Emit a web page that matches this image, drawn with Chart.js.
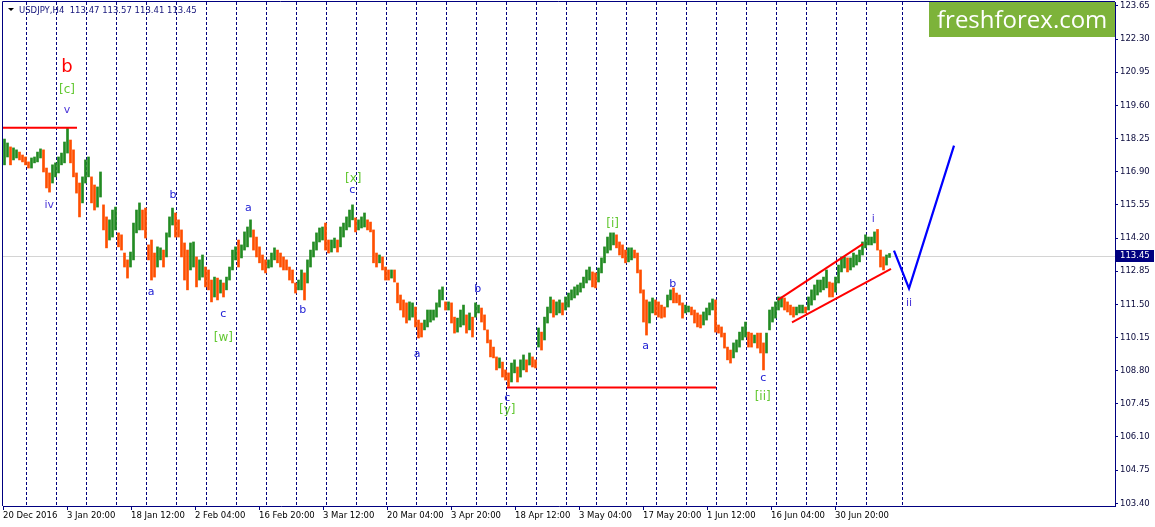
<!DOCTYPE html>
<html><head><meta charset="utf-8">
<script src="https://cdn.jsdelivr.net/npm/chart.js@4.4.1/dist/chart.umd.min.js"></script>
<style>html,body{margin:0;padding:0;background:#fff;overflow:hidden}#wrap{position:relative;width:1155px;height:527px}</style>
</head><body><div id="wrap"><canvas id="c" width="1155" height="527"></canvas></div>
<script>
const symbolTitle = 'USDJPY,H4  113.47 113.57 113.41 113.45';
const lastPrice = 113.45;
const logoText = 'freshforex.com';
// each plotted bar groups 3 H4 bars; x axis counts H4 bars from 20 Dec 2016
const barStep = 3;
const firstBar = 1.5;
const highs = [
118.23,118.07,117.91,117.87,117.79,117.70,117.58,117.50,117.30,117.46,117.50,117.70,117.83,117.79,117.05,116.85,117.18,117.26,117.50,117.66,118.11,118.68,118.19,117.79,116.85,116.44,116.69,117.38,117.50,116.69,116.36,116.28,116.89,115.55,115.06,114.94,115.34,115.46,114.41,114.33,113.59,113.31,113.63,114.81,115.34,115.63,115.34,115.42,113.92,
114.12,113.59,113.84,113.80,113.71,114.41,115.06,115.42,115.22,114.94,114.53,114.00,113.71,114.00,114.04,113.43,113.31,113.51,113.02,112.90,112.49,112.61,112.57,112.49,112.37,112.61,113.02,113.71,113.84,114.12,113.92,114.45,114.65,114.94,114.53,114.24,113.84,113.51,113.31,113.31,113.59,113.80,113.71,113.59,113.43,113.31,113.02,112.90,112.37,112.49,
112.90,112.78,113.31,113.71,114.04,114.41,114.61,114.65,114.81,114.12,114.12,114.20,114.12,114.65,114.81,115.06,115.34,115.55,115.02,114.94,115.06,115.22,114.94,114.85,114.53,113.59,113.51,113.43,113.02,112.90,112.90,112.90,112.37,111.88,111.68,111.56,111.60,111.56,111.39,110.86,110.74,110.86,111.27,111.27,111.27,111.56,112.09,112.21,111.60,111.60,
111.56,110.98,110.94,111.27,111.47,111.07,111.15,110.98,111.56,111.47,111.35,111.07,110.46,110.05,109.76,109.36,109.32,109.15,108.83,108.71,109.11,109.24,108.95,109.24,109.44,109.24,109.52,109.36,109.24,110.54,110.37,110.98,111.39,111.80,111.68,111.60,111.68,111.56,111.80,111.96,112.09,112.21,112.29,112.37,112.61,112.90,113.02,112.82,112.78,112.98,
113.39,113.84,114.24,114.41,114.41,114.33,114.04,113.92,113.71,113.80,113.80,113.71,113.59,112.90,112.09,111.68,111.60,111.76,111.68,111.60,111.47,111.39,111.88,112.09,112.17,111.96,111.88,111.56,111.47,111.43,111.39,111.27,111.15,111.07,111.19,111.35,111.56,111.72,111.68,110.66,110.58,110.33,109.76,109.64,109.93,110.05,110.37,110.58,110.78,110.37,
110.33,110.25,110.33,110.33,109.93,110.33,111.27,111.39,111.60,111.80,111.80,111.76,111.60,111.47,111.39,111.39,111.47,111.47,111.39,111.80,112.09,112.29,112.49,112.49,112.61,112.90,112.41,112.37,112.61,113.10,113.43,113.43,113.39,113.39,113.59,113.51,113.71,114.04,114.33,114.24,114.24,114.45,114.55,113.71,113.43,113.51,113.57];
const lows = [
117.18,117.50,117.18,117.38,117.46,117.38,117.30,117.18,117.05,117.05,117.26,117.30,117.46,116.89,116.24,116.07,116.44,116.69,116.85,117.18,117.26,117.66,117.26,116.69,116.03,115.06,115.63,116.44,116.69,115.63,115.34,115.46,115.87,114.53,113.80,114.12,114.24,114.53,113.84,113.71,113.02,112.57,113.02,113.31,114.41,114.53,114.53,114.20,113.31,
112.49,112.61,113.02,113.31,113.02,113.43,114.24,114.73,114.24,114.24,113.43,112.49,112.09,112.90,113.02,112.21,112.49,112.61,112.21,112.09,111.60,111.80,111.68,111.96,111.80,112.09,112.49,112.90,113.31,113.02,113.39,113.71,113.84,114.24,113.71,113.43,113.19,112.90,112.78,112.98,113.02,113.31,113.19,113.02,112.90,112.90,112.49,112.37,111.96,112.09,
112.09,111.68,112.37,113.02,113.43,113.71,114.04,114.12,113.71,113.59,113.63,113.80,113.63,113.84,114.24,114.53,114.65,114.94,114.45,114.53,114.61,114.65,114.53,114.45,113.19,113.02,113.19,112.90,112.49,112.49,112.57,112.41,111.56,111.27,110.98,110.74,110.86,110.98,110.58,110.13,110.17,110.46,110.58,110.78,110.86,110.98,111.39,111.68,111.27,111.27,
110.74,110.33,110.37,110.58,110.66,110.33,110.46,110.17,110.98,111.15,110.78,110.46,109.93,109.36,109.32,108.83,108.91,108.54,108.42,108.16,108.34,108.71,108.34,108.54,108.83,108.75,109.03,108.95,108.91,109.76,109.64,110.05,110.74,111.15,110.98,111.07,111.15,111.07,111.27,111.39,111.68,111.76,111.88,112.00,112.17,112.37,112.49,112.21,112.17,112.41,
112.78,113.19,113.59,113.71,113.92,113.80,113.51,113.39,113.19,113.23,113.31,113.39,112.78,111.96,110.78,110.25,110.74,111.15,111.07,110.98,110.94,110.98,111.39,111.68,111.56,111.56,111.47,110.94,111.15,111.19,111.07,110.74,110.58,110.54,110.66,110.86,111.07,111.27,110.37,110.33,110.17,109.72,109.24,109.11,109.32,109.56,109.76,110.05,110.17,109.76,
109.76,109.93,109.72,109.52,108.83,109.52,110.46,110.78,110.94,111.27,111.39,111.27,111.19,111.07,110.98,111.07,111.15,111.15,111.15,111.27,111.47,111.68,111.88,112.00,112.09,112.17,111.80,111.80,112.00,112.37,112.82,112.98,112.82,112.90,113.02,113.10,113.23,113.51,113.80,113.92,113.92,114.00,113.71,113.02,112.90,113.10,113.41];

const dateLabels = ['20 Dec 2016','3 Jan 20:00','18 Jan 12:00','2 Feb 04:00','16 Feb 20:00','3 Mar 12:00','20 Mar 04:00','3 Apr 20:00','18 Apr 12:00','3 May 04:00','17 May 20:00','1 Jun 12:00','16 Jun 04:00','30 Jun 20:00'];
const dateLabelBars = [0,64,128,192,256,320,384,448,512,576,640,704,768,832];
const priceTicks = [103.40,104.75,106.10,107.45,108.80,110.15,111.50,112.85,114.20,115.55,116.90,118.25,119.60,120.95,122.30,123.65];
const weekLines = [24,54,84,114,144,174,204,234,264,294,324,354,384,414,444,474,504,534,564,594,624,654,684,714,744,774,804,834,864,900];

const resistanceLine = [{x:0,y:118.69},{x:74,y:118.69}];
const supportLine = [{x:504,y:108.11},{x:713,y:108.11}];
const channelUpper = [{x:775,y:111.68},{x:860,y:113.96}];
const channelLower = [{x:789,y:110.77},{x:888,y:112.94}];
const forecastPath = [{x:891,y:113.69},{x:906,y:112.15},{x:951,y:117.96}];

// [text, H4 bar, price, style]
const waveLabels = [
 ['b',64,121.17,'major'],['[c]',64,120.23,'bracket'],['v',64,119.42,'sub'],['iv',46.3,115.55,'sub'],
 ['a',148,112.00,'minor'],['b',170,115.95,'minor'],['c',220.3,111.11,'minor'],['[w]',220.3,110.12,'bracket'],
 ['a',245.3,115.41,'minor'],['b',299.7,111.27,'minor'],['[x]',350.3,116.59,'bracket'],['c',349.3,116.13,'minor'],
 ['a',414,109.48,'minor'],['b',474.7,112.11,'minor'],['c',504.3,107.68,'minor'],['[y]',504.3,107.20,'bracket'],
 ['[i]',609.7,114.76,'bracket'],['a',642.7,109.80,'minor'],['b',669.7,112.32,'minor'],
 ['c',760.3,108.49,'minor'],['[ii]',759.7,107.72,'bracket'],['i',870.3,114.96,'sub'],['ii',906,111.54,'sub']
];
const waveStyles = {
 major:{font:'18px "DejaVu Sans"',color:'#ff0000'},
 bracket:{font:'12px "DejaVu Sans"',color:'#63c832'},
 minor:{font:'11px "DejaVu Sans"',color:'#1c1cd4'},
 sub:{font:'11px "DejaVu Sans"',color:'#4a35d8'}
};

const UP = '#228b22', DOWN = '#ff4f00', NAVY = '#000080';
const candleData = highs.map((h,i)=>({x:firstBar+i*barStep, y:[lows[i],h]}));
const candleColors = highs.map((h,i)=>{
  if(i===0) return UP;
  return (h+lows[i]) >= (highs[i-1]+lows[i-1]) ? UP : DOWN;
});

const overlay = {
  id:'overlay',
  beforeDraw(chart){
    const c=chart.ctx; c.save(); c.fillStyle='#fff'; c.fillRect(0,0,chart.width,chart.height); c.restore();
  },
  beforeDatasetsDraw(chart){
    const {ctx, chartArea:a, scales:{x,y}} = chart;
    ctx.save();
    ctx.strokeStyle=NAVY; ctx.lineWidth=1; ctx.setLineDash([3,2]);
    weekLines.forEach(b=>{
      const px=Math.round(x.getPixelForValue(b))-0.5;
      ctx.beginPath(); ctx.moveTo(px,a.top); ctx.lineTo(px,a.bottom); ctx.stroke();
    });
    ctx.setLineDash([]);
    ctx.strokeStyle='#d4d4d4';
    const py=Math.round(y.getPixelForValue(lastPrice))+0.5;
    ctx.beginPath(); ctx.moveTo(a.left,py); ctx.lineTo(a.right,py); ctx.stroke();
    ctx.restore();
  },
  afterDatasetsDraw(chart){
    const {ctx, scales:{x,y}} = chart;
    ctx.save();
    ctx.textAlign='center'; ctx.textBaseline='middle';
    waveLabels.forEach(([t,b,p,s])=>{
      ctx.font=waveStyles[s].font; ctx.fillStyle=waveStyles[s].color;
      ctx.fillText(t, x.getPixelForValue(b), y.getPixelForValue(p));
    });
    ctx.restore();
  },
  afterDraw(chart){
    const {ctx, chartArea:a, scales:{y}} = chart;
    ctx.save();
    ctx.strokeStyle=NAVY; ctx.lineWidth=1;
    ctx.beginPath(); ctx.moveTo(a.left-0.5,a.bottom); ctx.lineTo(a.left-0.5,a.top-0.5); ctx.lineTo(a.right,a.top-0.5); ctx.stroke();
    ctx.fillStyle='#000';
    ctx.beginPath(); ctx.moveTo(8,8); ctx.lineTo(14,8); ctx.lineTo(11,11); ctx.closePath(); ctx.fill();
    ctx.font='8.5px "DejaVu Sans"'; ctx.fillStyle='#14147a'; ctx.textBaseline='middle'; ctx.textAlign='left';
    ctx.fillText(symbolTitle, 19, 11);
    ctx.fillStyle='#7db33a'; ctx.fillRect(929,2,a.right-929,35);
    ctx.fillStyle='#ffffff'; ctx.font='24px "Open Sans"'; ctx.textBaseline='alphabetic';
    ctx.fillText(logoText, 937, 28);
    const py=Math.round(y.getPixelForValue(lastPrice));
    ctx.fillStyle=NAVY; ctx.fillRect(a.right+1,py-6,38,12);
    ctx.fillStyle='#fff'; ctx.font='8.5px "DejaVu Sans"'; ctx.textBaseline='middle';
    ctx.fillText(lastPrice.toFixed(2), a.right+5, py);
    ctx.restore();
  }
};

function lineSet(data,color,width){
  return {type:'line',data,borderColor:color,borderWidth:width,pointRadius:0,fill:false,tension:0,order:0};
}

new Chart(document.getElementById('c'),{
  data:{datasets:[
    {type:'bar',data:candleData,backgroundColor:candleColors,barThickness:2,grouped:false,borderWidth:0,order:1},
    lineSet(resistanceLine,'#ff0000',2),
    lineSet(supportLine,'#ff0000',2),
    lineSet(channelUpper,'#ff0000',2),
    lineSet(channelLower,'#ff0000',2),
    lineSet(forecastPath,'#0000ff',2.2)
  ]},
  options:{
    responsive:false, animation:false, devicePixelRatio:1,
    layout:{padding:{left:3,top:2,right:0,bottom:0}},
    plugins:{legend:{display:false},tooltip:{enabled:false}},
    scales:{
      x:{type:'linear',min:0,max:1112,offset:false,
        afterBuildTicks:s=>{s.ticks=dateLabelBars.map(v=>({value:v}));},
        afterFit:s=>{s.height=21; s.paddingLeft=0; s.paddingRight=0;},
        ticks:{autoSkip:false,maxRotation:0,minRotation:0,align:'start',padding:1,color:'#000',
          font:{family:'DejaVu Sans',size:8.5},
          callback:v=>dateLabels[dateLabelBars.indexOf(v)]},
        grid:{drawOnChartArea:false,tickLength:4,color:NAVY,offset:false},
        border:{color:NAVY,width:1}
      },
      y:{type:'linear',position:'right',min:103.29,max:123.81,
        afterBuildTicks:s=>{s.ticks=priceTicks.map(v=>({value:v}));},
        afterFit:s=>{s.width=40; s.paddingTop=0; s.paddingBottom=0;},
        ticks:{autoSkip:false,padding:2,color:'#0a0a3c',font:{family:'DejaVu Sans',size:8.5},
          callback:v=>Number(v).toFixed(2)},
        grid:{drawOnChartArea:false,tickLength:3,color:NAVY},
        border:{color:NAVY,width:1}
      }
    }
  },
  plugins:[overlay]
});
</script></body></html>
